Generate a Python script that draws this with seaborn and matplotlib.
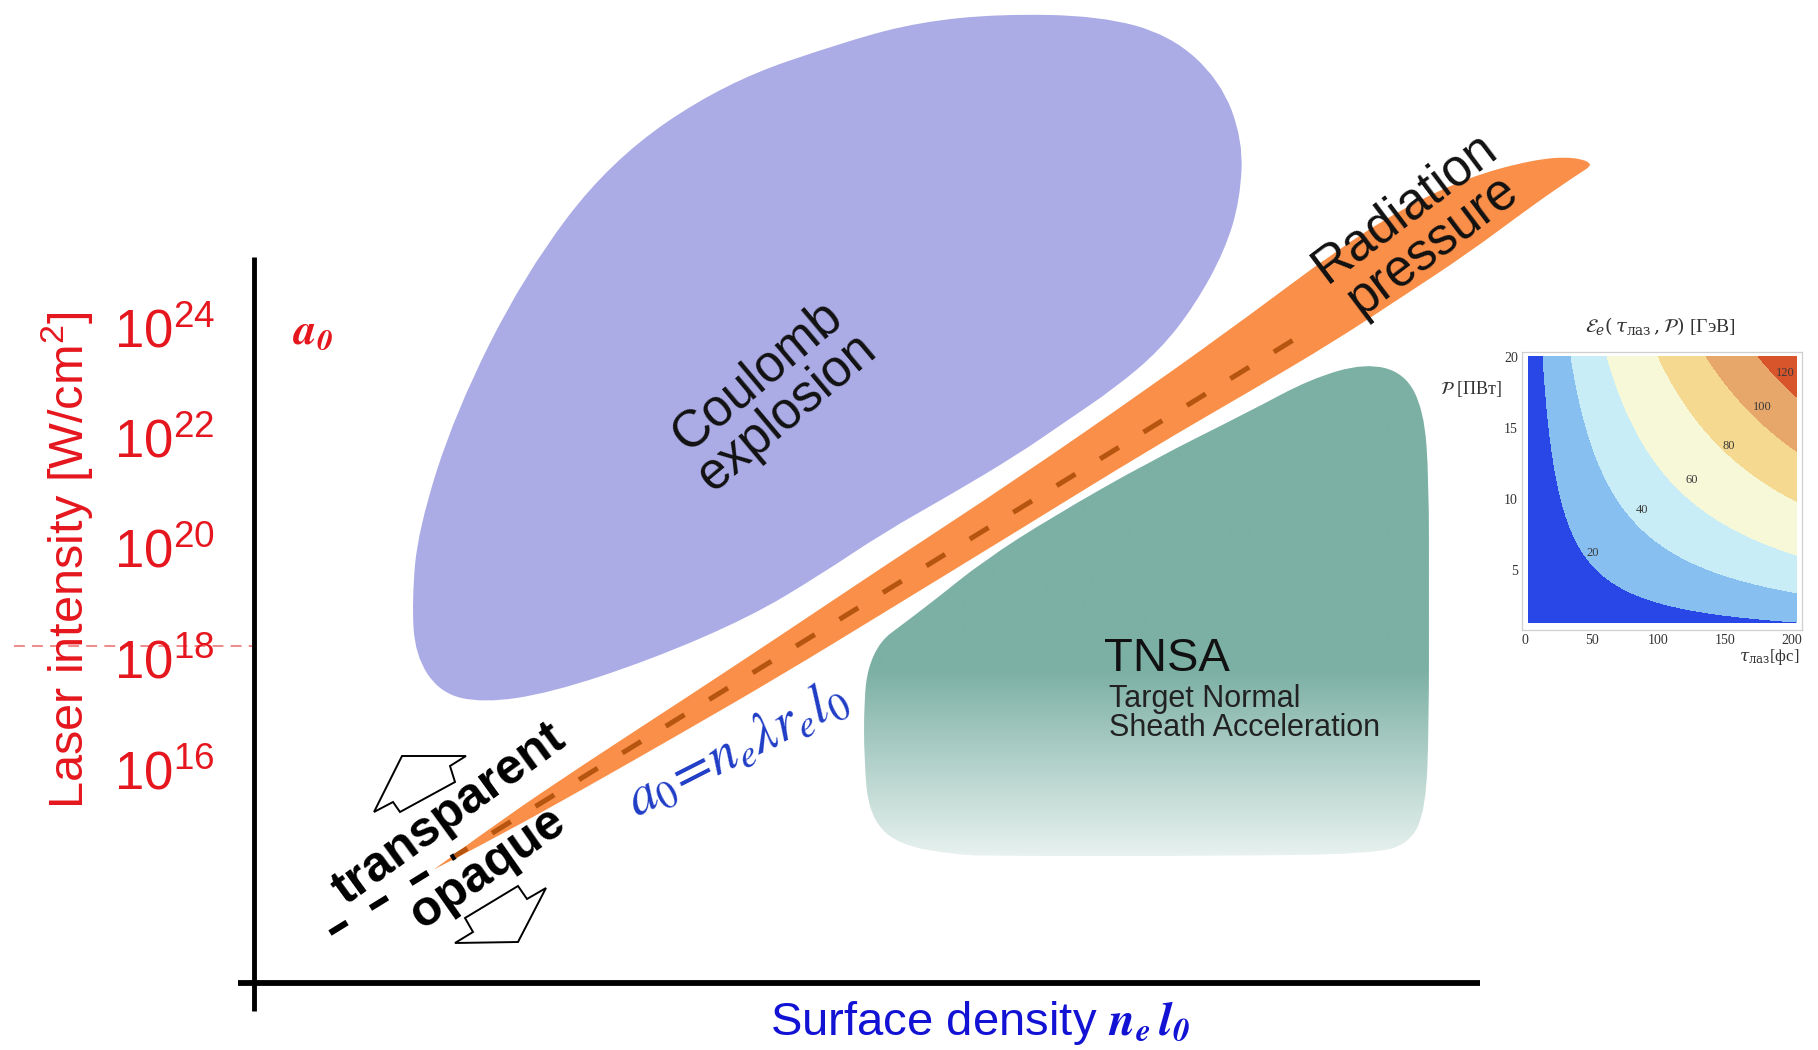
import numpy as np
import matplotlib
matplotlib.use("Agg")
import matplotlib.pyplot as plt
import seaborn as sns
from matplotlib.path import Path
from matplotlib.patches import PathPatch, Polygon

# ---------------- data (pixel space of a 1818x1050 canvas) ----------------
intensity_exponents = [24, 22, 20, 18, 16]

coulomb_x = [1000, 1100, 1170, 1220, 1243, 1240, 1225, 1195, 1160, 1115, 1065, 1017, 950, 883,
             820, 750, 650, 550, 483, 440, 415, 412, 418, 455, 524, 610, 724, 850, 920]
coulomb_y = [14, 16, 35, 80, 140, 200, 250, 305, 350, 388, 422, 455, 495, 533,
             575, 617, 660, 693, 703, 693, 655, 600, 530, 413, 275, 161, 83, 40, 22]

band_x = [500, 583, 683, 783, 883, 1017, 1150, 1250, 1333, 1400, 1467, 1533, 1575]
band_upper_y = [819, 763, 698, 632, 565, 477, 385, 313, 251, 208, 176, 158, 155]
band_lower_y = [837, 791, 734, 676, 615, 533, 451, 393, 344, 300, 256, 207, 178]
band_tip_left = (417, 880)
band_tip_right = (1597, 164)

tnsa_x = [1365, 1405, 1425, 1430, 1430, 1430, 1427, 1410, 1370, 1223, 1000, 955, 895, 868,
          863, 863, 867, 880, 900, 933, 983, 1050, 1150, 1250, 1310]
tnsa_y = [362, 372, 410, 480, 600, 720, 810, 845, 855, 857, 857, 856, 845, 815,
          760, 700, 667, 640, 625, 600, 560, 517, 460, 410, 378]

threshold_line_x = [330, 455, 1316]
threshold_line_y = [933, 856, 326]

arrow_up = [(402, 756), (466, 756), (450, 766), (455, 782), (400, 812), (393, 802), (374, 812)]
arrow_down = [(518, 886), (527, 899), (546, 888), (518, 942), (455, 943), (473, 932), (465, 918)]

# inset: energy contour map
e_levels = [20, 40, 60, 80, 100, 120]
tauP_at_level = [270, 690, 1230, 2000, 2720, 3500]
band_colors = ["#2947E6", "#87BFF0", "#C8EDF6", "#F6F8D8", "#F5D990", "#E8A76A", "#D8552C"]
tau_ticks = [0, 50, 100, 150, 200]
p_ticks = [5, 10, 15, 20]
label_tau = [51, 87.5, 125, 152.5, 177.5, 195]
label_P = [6.2, 9.2, 11.3, 13.7, 16.5, 18.9]

# ---------------- style ----------------
sns.set_theme(style="white")
plt.rcParams["font.family"] = ["Liberation Sans", "DejaVu Sans"]
plt.rcParams["mathtext.fontset"] = "custom"
plt.rcParams["mathtext.rm"] = "Liberation Sans"
plt.rcParams["mathtext.it"] = "Liberation Sans:italic"
plt.rcParams["mathtext.bf"] = "Liberation Sans:bold"

RED = "#E5161E"
PURPLE = "#ABABE6"
ORANGE = "#F98F48"
DASH_BROWN = "#B5550F"


def smooth_path(pts):
    pts = np.asarray(pts, float)
    mids = (pts + np.roll(pts, -1, axis=0)) / 2.0
    verts = [mids[-1]]
    codes = [Path.MOVETO]
    for i in range(len(pts)):
        verts += [pts[i], mids[i]]
        codes += [Path.CURVE3, Path.CURVE3]
    verts.append(mids[-1])
    codes.append(Path.CLOSEPOLY)
    return Path(verts, codes)


fig = plt.figure(figsize=(18.18, 10.5), dpi=100)
ax = fig.add_axes([0, 0, 1, 1])
ax.set_xlim(0, 1818)
ax.set_ylim(1050, 0)
ax.axis("off")

# Coulomb explosion region
coulomb = PathPatch(smooth_path(list(zip(coulomb_x, coulomb_y))),
                    facecolor=PURPLE, edgecolor="none", zorder=1)
ax.add_patch(coulomb)

# TNSA region with vertical gradient
tnsa = PathPatch(smooth_path(list(zip(tnsa_x, tnsa_y))),
                 facecolor="none", edgecolor="white", linewidth=1.5, zorder=2.5)
ax.add_patch(tnsa)
ys = np.linspace(355, 860, 300)
t = np.clip((ys - 670) / (860 - 670), 0, 1)
top_c = np.array([124, 176, 164]) / 255
bot_c = np.array([234, 243, 241]) / 255
rgb = top_c[None, :] * (1 - t[:, None]) + bot_c[None, :] * t[:, None]
im = ax.imshow(rgb[:, None, :], extent=(850, 1440, 860, 355), origin="upper",
               aspect="auto", zorder=2, interpolation="bilinear")
im.set_clip_path(tnsa)

# Radiation pressure band
band_pts = [band_tip_left, band_tip_left] + list(zip(band_x, band_upper_y)) + \
           [band_tip_right] + list(zip(band_x, band_lower_y))[::-1]
band = PathPatch(smooth_path(band_pts), facecolor=ORANGE, edgecolor="white",
                 linewidth=2.2, zorder=3)
ax.add_patch(band)

# threshold line a0 = n_e lambda r_e l0 : black part then brown part
sns.lineplot(x=threshold_line_x[:2], y=threshold_line_y[:2], ax=ax, color="black",
             linewidth=4.5, linestyle=(0, (3.2, 4.4)), estimator=None, sort=False,
             legend=False, zorder=4)
sns.lineplot(x=threshold_line_x[1:], y=threshold_line_y[1:], ax=ax, color=DASH_BROWN,
             linewidth=3.6, linestyle=(1.5, (4.4, 5.8)), estimator=None, sort=False,
             legend=False, zorder=4)

# axes lines
ax.plot([254, 254], [257, 1011], color="black", linewidth=3.5, solid_capstyle="butt", zorder=5)
ax.plot([238, 1480], [983, 983], color="black", linewidth=4.2, solid_capstyle="butt", zorder=5)
ax.plot([14, 252], [646, 646], color="#EE6A6A", linewidth=1.3, linestyle=(0, (6, 4)),
        alpha=0.85, zorder=5)

# y tick labels (intensity)
for e in intensity_exponents:
    y = 347 + (24 - e) * 55.25
    ax.text(114, y, r"$10^{%d}$" % e, color=RED, fontsize=38, ha="left", va="baseline", zorder=6)

ax.text(67, 560, "Laser intensity [W/cm$^2$]", rotation=90, color=RED, fontsize=35,
        ha="center", va="center", zorder=6)
ax.text(313, 333, r"$\mathbfit{a}_{\mathbfit{0}}$", color=RED, fontsize=32,
        math_fontfamily="stix", ha="center", va="center", zorder=6)

ax.text(980, 1035, r"Surface density $\mathbfit{n}_{\mathbfit{e}}\,\mathbfit{l}_{\mathbfit{0}}$",
        color="#1212D4", fontsize=34, math_fontfamily="stix", ha="center", va="baseline", zorder=6)

# region labels
ax.text(772, 394, "Coulomb\nexplosion", rotation=40, rotation_mode="anchor", fontsize=37,
        ha="center", va="center", linespacing=0.95, color="#111111", zorder=6)
ax.text(1419, 226, "Radiation\npressure", rotation=37, rotation_mode="anchor", fontsize=37,
        ha="center", va="center", linespacing=0.95, color="#111111", zorder=6)
ax.text(1104, 671, "TNSA", fontsize=34, ha="left", va="baseline", color="#111111", zorder=6)
ax.text(1109, 684, "Target Normal\nSheath Acceleration", fontsize=22, ha="left", va="top",
        linespacing=0.95, color="#222222", zorder=6)

ax.text(449, 814, "transparent", rotation=36, rotation_mode="anchor", fontsize=36,
        fontweight="bold", ha="center", va="center", color="black", zorder=6)
ax.text(488, 868, "opaque", rotation=35, rotation_mode="anchor", fontsize=36,
        fontweight="bold", ha="center", va="center", color="black", zorder=6)
ax.text(737, 750, r"$a_0\!=\!n_e\lambda r_e l_0$", rotation=27, rotation_mode="anchor",
        fontsize=40, math_fontfamily="stix", ha="center", va="center", color="#1F3CC6", zorder=6)

for poly in (arrow_up, arrow_down):
    ax.add_patch(Polygon(poly, closed=True, facecolor="white", edgecolor="black",
                         linewidth=1.4, zorder=6))

# ---------------- inset ----------------
ax2 = fig.add_axes([1522 / 1818, 1 - 630 / 1050, 280 / 1818, 278 / 1050])
tau = np.linspace(2.5, 203.7, 400)
P = np.linspace(1.3, 20.0, 400)
TAU, PP = np.meshgrid(tau, P)
E = np.interp(TAU * PP, [0] + tauP_at_level + [6000], [0] + e_levels + [160])
ax2.contourf(TAU, PP, E, levels=[0] + e_levels + [1000], colors=band_colors)
ax2.set_xlim(-2.2, 207.5)
ax2.set_ylim(0.77, 20.35)
ax2.set_xticks(tau_ticks)
ax2.set_yticks(p_ticks)
ax2.set_xticklabels([str(v) for v in tau_ticks], family="Liberation Serif", fontsize=10, color="#333333")
ax2.set_yticklabels([str(v) for v in p_ticks], family="Liberation Serif", fontsize=10, color="#333333")
ax2.tick_params(length=0, pad=3)
for s in ax2.spines.values():
    s.set_color("#CFCFCF")
    s.set_linewidth(0.9)
for v, tx, ty in zip(e_levels, label_tau, label_P):
    ax2.text(tx, ty, str(v), family="Liberation Serif", fontsize=9, color="#3A3A3A",
             ha="center", va="center")

fig.text(1660 / 1818, 1 - 326 / 1050, r"$\mathcal{E}_e(\,\tau_{\mathrm{лаз}}\,,\mathcal{P})$ [ГэВ]",
         family="Liberation Serif", math_fontfamily="dejavuserif", fontsize=14,
         ha="center", va="center", color="#333333")
fig.text(1440 / 1818, 1 - 389 / 1050, r"$\mathcal{P}$ [ПВт]", family="Liberation Serif",
         math_fontfamily="dejavuserif", fontsize=13, ha="left", va="center", color="#333333")
fig.text(1799 / 1818, 1 - 657 / 1050, r"$\tau_{\mathrm{лаз}}$[фс]", family="Liberation Serif",
         math_fontfamily="dejavuserif", fontsize=12, ha="right", va="center", color="#333333")

fig.savefig("out.png", dpi=100, facecolor="white")
